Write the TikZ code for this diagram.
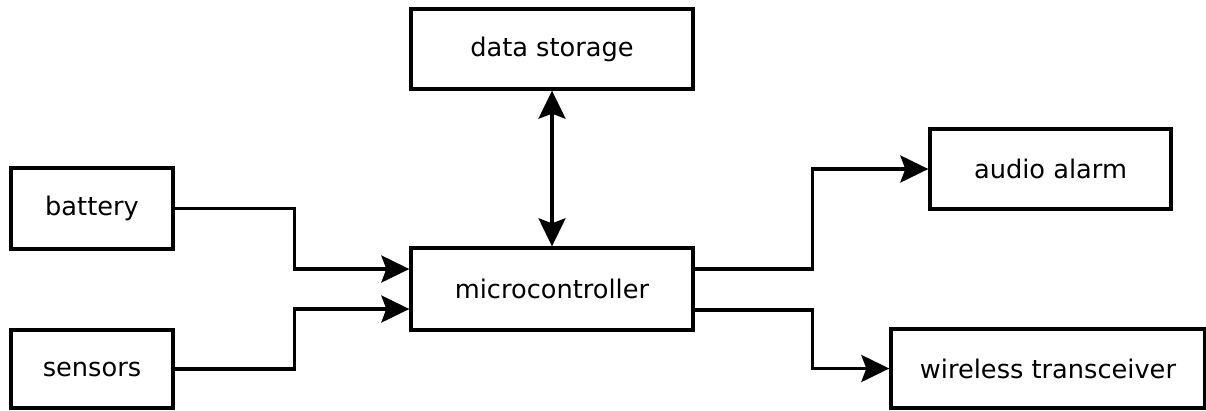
\documentclass[tikz,border=0pt]{standalone}
\usepackage{fontspec}
\setmainfont{DejaVu Sans}
\usetikzlibrary{arrows.meta,positioning}

\begin{document}
\begin{tikzpicture}[x=0.02cm,y=-0.02cm,
    >={Stealth[length=0.56cm,width=0.54cm,inset=0.1cm]},
    block/.style={draw,line width=1.9pt,font=\fontsize{14.6}{17}\selectfont,inner sep=0pt},
    link/.style={line width=1.9pt},
    arr/.style={link,->}]
  \useasboundingbox (0,0) rectangle (1206,410);
  \clip (0,0) rectangle (1206,410);

  \node[block,minimum width=282*0.02cm,minimum height=80*0.02cm] (storage) at (552,49) {data storage};      %Top block
  \node[block,minimum width=282*0.02cm,minimum height=82*0.02cm] (micro) at (552,289) {microcontroller};     %Centre block
  \node[block,minimum width=162*0.02cm,minimum height=81*0.02cm] (battery) at (92,208.5) {battery};         %Inputs
  \node[block,minimum width=162*0.02cm,minimum height=78*0.02cm] (sensors) at (92,369) {sensors};
  \node[block,minimum width=241*0.02cm,minimum height=80*0.02cm] (alarm) at (1050.5,169) {audio alarm};     %Outputs
  \node[block,minimum width=314*0.02cm,minimum height=79*0.02cm] (radio) at (1048,368.5) {wireless transceiver};

  \draw[arr] (battery.east) -- ++(120,0) |- ([yshift=0.4cm]micro.west);   %battery to micro
  \draw[arr] (sensors.east) -- ++(120,0) |- ([yshift=-0.4cm]micro.west);  %sensors to micro
  \draw[arr] ([yshift=0.4cm]micro.east) -- ++(118,0) |- (alarm.west);
  \draw[arr] ([yshift=-0.42cm]micro.east) -- ++(118,0) |- (radio.west);
  \draw[link,<->] (storage.south) -- (micro.north); %two way link
\end{tikzpicture}
\end{document}
